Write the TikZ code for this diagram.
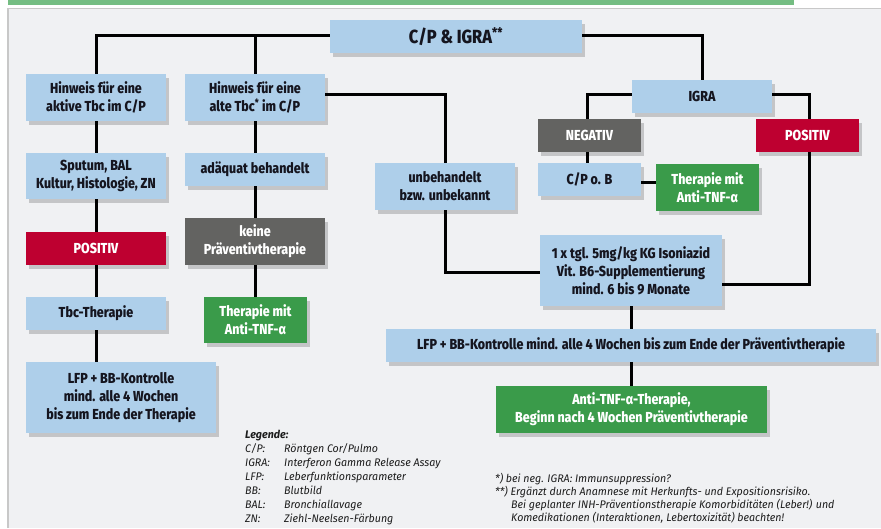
\documentclass[tikz,border=0pt]{standalone}
\usepackage{fontspec}
\setmainfont{Fira Sans}
\newfontfamily\boxfont{Fira Sans ExtraBold}[FakeStretch=0.86]
\newfontfamily\notefont{Fira Sans}[FakeStretch=0.97]
\usetikzlibrary{shadows}
\definecolor{boxblue}{HTML}{AECFEA}
\definecolor{boxred}{HTML}{BE0030}
\definecolor{boxgrey}{HTML}{636361}
\definecolor{boxgreen}{HTML}{3A9B4A}
\definecolor{topgreen}{HTML}{74BD82}
\definecolor{panel}{HTML}{F0F1F3}
\definecolor{panelline}{HTML}{C8C8C8}
\definecolor{textdark}{HTML}{15151F}
\definecolor{notetext}{HTML}{1C1C1C}
\tikzset{
  basebox/.style={draw=none, align=center, inner sep=0pt,
    font=\boxfont\fontsize{14.5}{18}\selectfont,
    drop shadow={shadow xshift=3pt, shadow yshift=-3.5pt, fill=black, opacity=0.18}},
  bluebox/.style={basebox, fill=boxblue, text=textdark},
  redbox/.style={basebox, fill=boxred, text=white},
  greybox/.style={basebox, fill=boxgrey, text=white},
  greenbox/.style={basebox, fill=boxgreen, text=white},
  conn/.style={line width=3pt, draw=black, line join=miter},
  notetxt/.style={inner sep=0pt, anchor=base west, text=notetext,
    font=\notefont\itshape\fontsize{11}{13}\selectfont},
}
\begin{document}
\begin{tikzpicture}[x=1pt, y=-1pt]
\useasboundingbox (0,0) rectangle (881,528);
% background
\fill[white] (0,0) rectangle (881,528);
\fill[panel] (8,8) rectangle (881,528);
\draw[panelline, line width=1.2pt] (8,528) -- (8,8.6) -- (881,8.6);
\fill[topgreen] (8,0) rectangle (794,5);

% nodes
\node[bluebox, minimum width=252pt, minimum height=33pt,
  font=\boxfont\fontsize{19}{20}\selectfont] (cpigra) at (456,36.5) {C/P \& IGRA\textsuperscript{**}};

\node[bluebox, minimum width=140pt, minimum height=47pt] (hinakt) at (96,97.5) {Hinweis für eine\\aktive Tbc im C/P};
\node[bluebox, minimum width=140pt, minimum height=46pt] (sputum) at (96,176) {Sputum, BAL\\Kultur, Histologie, ZN};
\node[redbox, minimum width=140pt, minimum height=33pt] (posL) at (96,248.5) {POSITIV};
\node[bluebox, minimum width=140pt, minimum height=33pt] (tbcth) at (96,313.5) {Tbc-Therapie};
\node[bluebox, minimum width=190pt, minimum height=71pt] (lfpL) at (121,397.5) {LFP + BB-Kontrolle\\mind. alle 4 Wochen\\bis zum Ende der Therapie};

\node[bluebox, minimum width=140pt, minimum height=47pt] (hinalt) at (255,97.5) {Hinweis für eine\\alte Tbc\textsuperscript{*} im C/P};
\node[bluebox, minimum width=140pt, minimum height=33pt] (adaeq) at (255,169.5) {adäquat behandelt};
\node[greybox, minimum width=140pt, minimum height=47pt] (keine) at (255,241.5) {keine\\Präventivtherapie};
\node[greenbox, minimum width=103pt, minimum height=46pt] (thL) at (255.5,320) {Therapie mit\\Anti-TNF-α};

\node[bluebox, minimum width=140pt, minimum height=47pt] (unbeh) at (445,186.5) {unbehandelt\\bzw. unbekannt};

\node[bluebox, minimum width=140pt, minimum height=33pt] (igra) at (702,96.5) {IGRA};
\node[greybox, minimum width=103pt, minimum height=33pt] (neg) at (589.5,135.5) {NEGATIV};
\node[redbox, minimum width=103pt, minimum height=33pt] (posR) at (807.5,135.5) {POSITIV};
\node[bluebox, minimum width=103pt, minimum height=33pt] (cpob) at (589.5,179.5) {C/P o. B};
\node[greenbox, minimum width=103pt, minimum height=47pt] (thR) at (707.5,187.5) {Therapie mit\\Anti-TNF-α};

\node[bluebox, minimum width=182pt, minimum height=71pt] (iso) at (631,270.5) {1 x tgl. 5mg/kg KG Isoniazid\\Vit. B6-Supplementierung\\mind. 6 bis 9 Monate};
\node[bluebox, minimum width=490pt, minimum height=33pt] (lfpR) at (631,345.5) {LFP + BB-Kontrolle mind. alle 4 Wochen bis zum Ende der Präventivtherapie};
\node[greenbox, minimum width=271pt, minimum height=47pt] (anti) at (631.5,409.5) {Anti-TNF-α-Therapie,\\Beginn nach 4 Wochen Präventivtherapie};

% connectors
\coordinate (topW) at ([yshift=1.5pt]cpigra.west);
\coordinate (topE) at ([yshift=1.5pt]cpigra.east);
\coordinate (isoR) at ([yshift=-13.5pt]iso.east);
\draw[conn] (hinakt.north) |- (topW);
\draw[conn] (hinalt.north) -- (hinalt.north |- topW);
\draw[conn] (igra.north) |- (topE);
\draw[conn] (hinakt) -- (sputum);
\draw[conn] (sputum) -- (posL);
\draw[conn] (posL) -- (tbcth);
\draw[conn] (tbcth.south) -- (tbcth.south |- lfpL.north);
\draw[conn] (hinalt) -- (adaeq);
\draw[conn] (adaeq) -- (keine);
\draw[conn] (keine.south) -- (keine.south |- thL.north);
\draw[conn] ([yshift=3pt]hinalt.east) -| (unbeh.north);
\draw[conn] (unbeh.south) |- ([yshift=-1.5pt]iso.west);
\draw[conn] ([yshift=2.5pt]igra.west) -| ([xshift=-2.5pt]neg.north);
\draw[conn] ([yshift=2.5pt]igra.east) -| ([xshift=1.5pt]posR.north);
\draw[conn] ([xshift=-2.5pt]neg.south) -- ([xshift=-2.5pt]cpob.north);
\coordinate (cpobR) at ([yshift=-2.5pt]cpob.east);
\draw[conn] (cpobR) -- (cpobR -| thR.west);
\draw[conn] ([xshift=1.5pt]posR.south) |- (isoR);
\draw[conn] (iso) -- (lfpR);
\draw[conn] (lfpR.south) -- (lfpR.south |- anti.north);

% legend
\node[notetxt, font=\notefont\bfseries\itshape\fontsize{11}{13}\selectfont] (lgh) at (245,438) {Legende:};
\node[notetxt] (lga1) at (245,452) {C/P:};
\node[notetxt] (lgb1) at (284,452) {Röntgen Cor/Pulmo};
\node[notetxt] (lga2) at (245,466) {IGRA:};
\node[notetxt] (lgb2) at (284,466) {Interferon Gamma Release Assay};
\node[notetxt] (lga3) at (245,480) {LFP:};
\node[notetxt] (lgb3) at (284,480) {Leberfunktionsparameter};
\node[notetxt] (lga4) at (245,494) {BB:};
\node[notetxt] (lgb4) at (284,494) {Blutbild};
\node[notetxt] (lga5) at (245,508) {BAL:};
\node[notetxt] (lgb5) at (284,508) {Bronchiallavage};
\node[notetxt] (lga6) at (245,522) {ZN:};
\node[notetxt] (lgb6) at (284,522) {Ziehl-Neelsen-Färbung};

% footnotes
\node[notetxt] (fn1) at (495,482) {*) bei neg. IGRA: Immunsuppression?};
\node[notetxt] (fn2) at (495,495) {**) Ergänzt durch Anamnese mit Herkunfts- und Expositionsrisiko.};
\node[notetxt] (fn3) at (511,508) {Bei geplanter INH-Präventionstherapie Komorbiditäten (Leber!) und};
\node[notetxt] (fn4) at (511,521) {Komedikationen (Interaktionen, Lebertoxizität) beachten!};
\end{tikzpicture}
\end{document}
